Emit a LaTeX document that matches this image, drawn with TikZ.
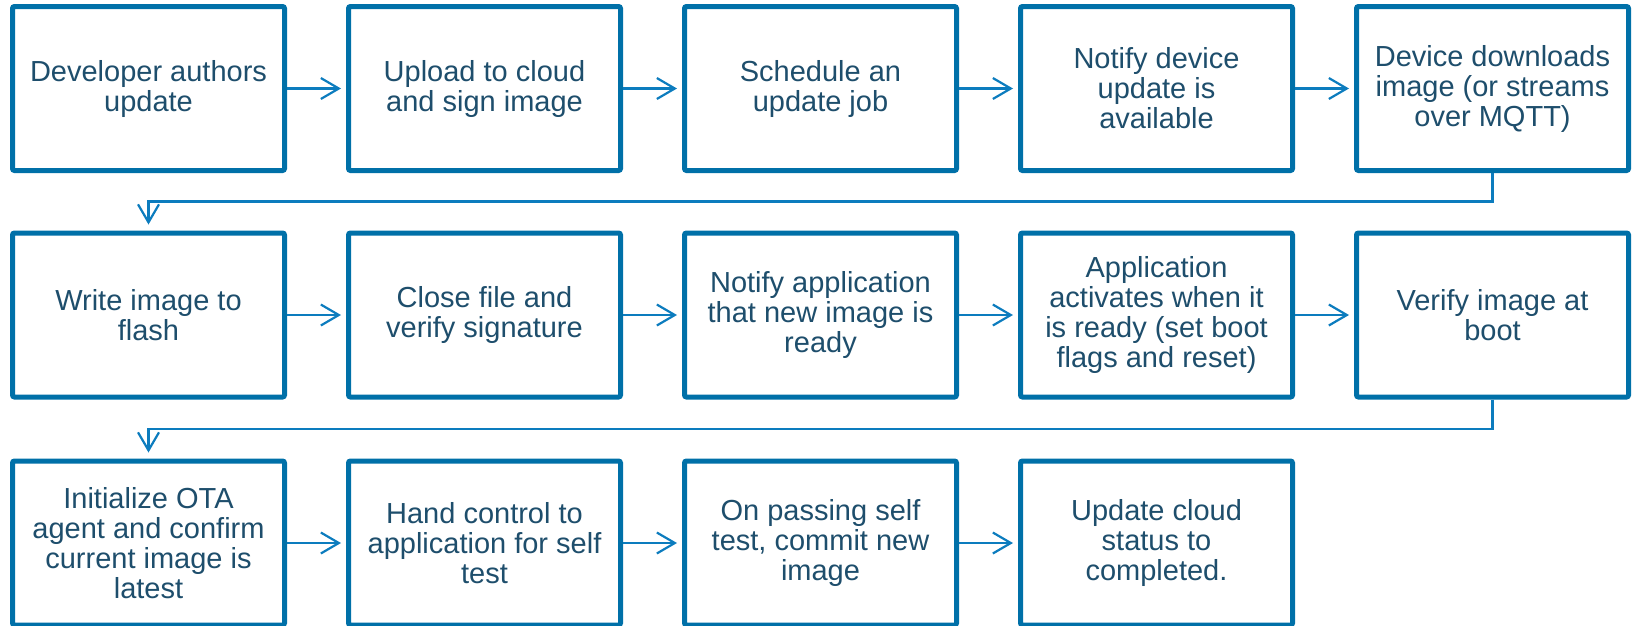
\documentclass[tikz,border=0pt]{standalone}
\usepackage{fontspec}
\setmainfont{Liberation Sans}
\usetikzlibrary{arrows.meta}
\definecolor{boxblue}{RGB}{0,112,168}
\definecolor{arrowblue}{RGB}{12,124,190}
\definecolor{textblue}{RGB}{30,78,108}
\begin{document}
\begin{tikzpicture}[x=1pt,y=-1pt,
  stepbox/.style={draw=boxblue, line width=5pt, rounded corners=2pt, fill=white,
    minimum width=272pt, minimum height=164pt, inner sep=0pt, align=center,
    text=textblue, font=\fontsize{29}{30}\selectfont},
  flow/.style={draw=arrowblue, line width=2.2pt,
    -{Straight Barb[length=18pt,width=21pt]}}
]
\useasboundingbox (0,0) rectangle (1632,625);
% centers: x = 148.5 + 336 i ; rows y centers
\def\ra{88.5}
\def\rb{315}
\def\rc{543}
\node[stepbox] (a1) at (148.5,\ra) {Developer authors\\update};
\node[stepbox] (a2) at (484.5,\ra) {Upload to cloud\\and sign image};
\node[stepbox] (a3) at (820.5,\ra) {Schedule an\\update job};
\node[stepbox] (a4) at (1156.5,\ra) {Notify device\\update is\\available};
\node[stepbox] (a5) at (1492.5,\ra) {Device downloads\\image (or streams\\over MQTT)};
\node[stepbox] (b1) at (148.5,\rb) {Write image to\\flash};
\node[stepbox] (b2) at (484.5,\rb) {Close file and\\verify signature};
\node[stepbox] (b3) at (820.5,\rb) {Notify application\\that new image is\\ready};
\node[stepbox] (b4) at (1156.5,\rb) {Application\\activates when it\\is ready (set boot\\flags and reset)};
\node[stepbox] (b5) at (1492.5,\rb) {Verify image at\\boot};
\node[stepbox] (c1) at (148.5,\rc) {Initialize OTA\\agent and confirm\\current image is\\latest};
\node[stepbox] (c2) at (484.5,\rc) {Hand control to\\application for self\\test};
\node[stepbox] (c3) at (820.5,\rc) {On passing self\\test, commit new\\image};
\node[stepbox] (c4) at (1156.5,\rc) {Update cloud\\status to\\completed.};
\foreach \r in {a,b}{
  \foreach \i/\j in {1/2,2/3,3/4,4/5}{
    \draw[flow, shorten >=5pt] (\r\i.east) -- (\r\j.west);
  }
}
\foreach \i/\j in {1/2,2/3,3/4}{
  \draw[flow, shorten >=5pt] (c\i.east) -- (c\j.west);
}
\coordinate (k1) at (1492.5,201.5);
\coordinate (k2) at (148.5,201.5);
\draw[flow, shorten >=6pt] (a5.south) -- (k1) -- (k2) -- (b1.north);
\coordinate (m1) at (1492.5,429);
\coordinate (m2) at (148.5,429);
\draw[flow, shorten >=6pt] (b5.south) -- (m1) -- (m2) -- (c1.north);
\end{tikzpicture}
\end{document}
